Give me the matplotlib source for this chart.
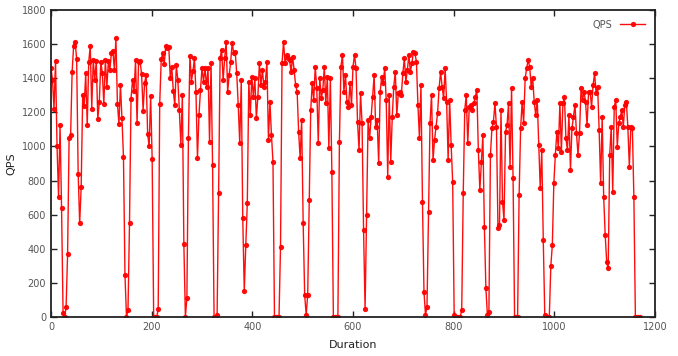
import numpy as np
import matplotlib
matplotlib.use("Agg")
import matplotlib.pyplot as plt

# sampling interval of the QPS series (seconds)
step = 3

qps = [
    1460, 1390, 1220, 1500, 1005, 702, 1125, 640, 23, 0,
    58, 370, 1050, 1065, 1437, 1590, 1615, 1510, 840, 550,
    764, 1300, 1237, 1430, 1123, 1495, 1590, 1222, 1505, 1390,
    1500, 1160, 1262, 1495, 1432, 1250, 1505, 1350, 1500, 1447,
    1550, 1560, 1447, 1635, 1250, 1132, 1360, 1165, 938, 246,
    0, 40, 550, 1278, 1390, 1322, 1505, 1135, 1495, 1500,
    1425, 1210, 1370, 1420, 1075, 1000, 1298, 925, 0, 0,
    0, 45, 1250, 1510, 1545, 1485, 1590, 1575, 1585, 1400,
    1465, 1325, 1240, 1475, 1390, 1215, 1010, 1300, 425, 0,
    110, 1047, 1532, 1380, 1440, 1516, 1321, 930, 1184, 1331,
    1461, 1380, 1458, 1350, 1458, 1028, 1487, 891, 0, 0,
    10, 725, 1520, 1565, 1389, 1516, 1614, 1321, 1418, 1497,
    1608, 1546, 1555, 1428, 1243, 1018, 1389, 578, 152, 422,
    666, 1380, 1184, 1409, 1292, 1399, 1165, 1292, 1487, 1360,
    1448, 1350, 1380, 1497, 1038, 1262, 1067, 911, 0, 0,
    0, 0, 412, 1487, 1614, 1487, 1536, 1516, 1507, 1438,
    1526, 1448, 1360, 1321, 1086, 930, 1155, 549, 129, 12,
    129, 686, 1213, 1370, 1272, 1467, 1340, 1018, 1399, 1282,
    1330, 1467, 1252, 1409, 989, 1399, 852, 0, 0, 0,
    0, 1028, 1467, 1536, 1321, 1418, 1262, 1233, 1370, 1243,
    1467, 1536, 1458, 1145, 979, 1311, 1135, 510, 45, 598,
    1155, 1047, 1174, 1292, 1418, 1116, 1155, 901, 1321, 1409,
    1370, 1458, 1272, 823, 1301, 911, 1174, 1350, 1438, 1184,
    1311, 1321, 1301, 1428, 1516, 1380, 1448, 1536, 1438, 1487,
    1555, 1546, 1497, 1243, 1047, 1360, 676, 149, 12, 61,
    617, 1135, 1301, 920, 1038, 1116, 1194, 1340, 1438, 1350,
    1282, 1458, 1262, 920, 1272, 1008, 793, 12, 0, 0,
    0, 0, 41, 725, 1213, 1301, 1018, 1233, 1243, 1213,
    1252, 1292, 1331, 979, 744, 911, 1067, 530, 168, 12,
    31, 950, 1106, 1145, 1252, 1116, 520, 539, 1213, 676,
    569, 1086, 1125, 1252, 881, 1340, 813, 0, 0, 0,
    715, 1106, 1262, 1135, 1399, 1458, 1507, 1467, 1350, 1399,
    1262, 1184, 1272, 1008, 754, 979, 451, 12, 0, 0,
    0, 299, 422, 784, 950, 1086, 989, 1252, 969, 1252,
    1292, 1047, 979, 1184, 862, 1106, 1174, 1243, 1077, 950,
    1077, 1340, 1272, 1321, 1262, 1125, 1321, 1321, 1233, 1360,
    1428, 1311, 1350, 1096, 784, 1174, 705, 481, 324, 285,
    950, 1116, 735, 1233, 1272, 998, 1135, 1174, 1213, 1116,
    1243, 1262, 1116, 881, 1116, 1106, 705, 0, 0, 0,
    0,
]
duration = np.arange(len(qps)) * step

x_ticks = [0, 200, 400, 600, 800, 1000, 1200]
y_ticks = [0, 200, 400, 600, 800, 1000, 1200, 1400, 1600, 1800]

fig = plt.figure(figsize=(6.78, 3.56), dpi=100)
ax = fig.add_axes([0.0752, 0.1096, 0.8909, 0.8624])

ax.plot(duration, qps, color="#ff0000", linewidth=1.0, marker="o",
        markersize=3.8, markeredgewidth=0, alpha=0.95, label="QPS")

ax.set_xlim(0, 1200)
ax.set_ylim(0, 1800)
ax.set_xticks(x_ticks)
ax.set_yticks(y_ticks)
ax.tick_params(direction="in", length=4, width=1, top=True, right=True,
               labelsize=7, labelcolor="#555555", color="#222222")
for s in ax.spines.values():
    s.set_linewidth(1.3)
    s.set_color("#222222")

ax.set_xlabel("Duration", fontsize=8, color="#222222", labelpad=6)
ax.set_ylabel("QPS", fontsize=8, color="#222222", labelpad=4)

ax.legend(loc="upper right", frameon=False, fontsize=7, markerfirst=False,
          handlelength=2.6, borderaxespad=0.6, labelcolor="#555555")

fig.savefig("out.png", dpi=100)
